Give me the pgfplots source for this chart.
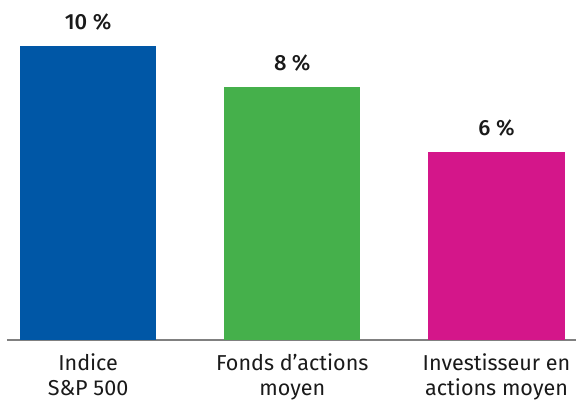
\documentclass[border=0pt]{standalone}
\usepackage{pgfplots}
\pgfplotsset{compat=1.18}
\usepackage{fontspec}
\setmainfont{Fira Sans}
\newfontfamily\firamed{Fira Sans}[UprightFont={* Medium}]
\definecolor{cblue}{HTML}{0057A6}
\definecolor{cgreen}{HTML}{45B04B}
\definecolor{cmag}{HTML}{D4168A}
\definecolor{txt}{HTML}{1A1A1A}
\definecolor{axgray}{HTML}{808080}
\begin{document}
\begin{tikzpicture}[x=0.5pt,y=0.5pt]
\begin{axis}[
  scale only axis,
  width=285pt, height=170.5pt,
  xmin=-0.397, xmax=2.389,
  ymin=0, ymax=11.56,
  axis x line=bottom, axis y line=none,
  x axis line style={-, draw=axgray, line width=0.9pt},
  xtick={0,1,2}, major tick length=0pt,
  xticklabels={{Indice\\S\&P 500},{Fonds d’actions\\moyen},{Investisseur en\\actions moyen}},
  xticklabel style={align=center, font=\fontsize{10.8}{12.5}\selectfont, text=txt, yshift=-3pt},
  ytick=\empty,
  clip=false,
  every axis plot/.append style={ybar, bar width=0.666, bar shift=0pt, draw=none},
  nodes near coords,
  point meta=explicit symbolic,
  every node near coord/.append style={font=\fontsize{11}{12}\selectfont\firamed, text=txt, anchor=base, yshift=8pt},
]
\addplot[fill=cblue] coordinates {(0,10) [10 \%]};
\addplot[fill=cgreen] coordinates {(1,8.61) [8 \%]};
\addplot[fill=cmag] coordinates {(2,6.41) [6 \%]};
\end{axis}
\path ([xshift=-3.5pt,yshift=-33pt]current axis.south west) rectangle (current axis.north east);
\end{tikzpicture}
\end{document}
